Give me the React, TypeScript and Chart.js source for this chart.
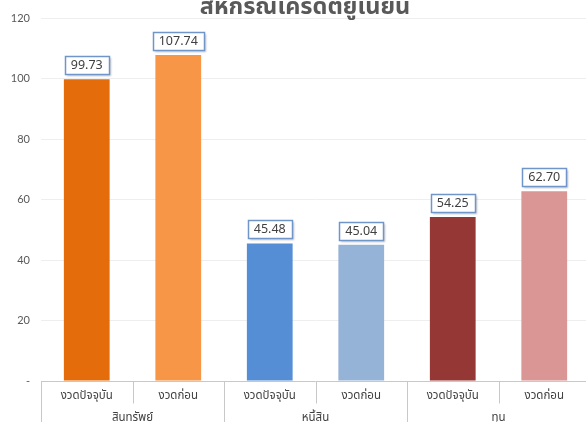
import { useEffect, useRef } from "react";
import { Chart, registerables } from "chart.js";

Chart.register(...registerables);

const titleText = "สหกรณ์เครดิตยูเนี่ยน";
const periods = ["งวดปัจจุบัน", "งวดก่อน", "งวดปัจจุบัน", "งวดก่อน", "งวดปัจจุบัน", "งวดก่อน"];
const groups = ["สินทรัพย์", "หนี้สิน", "ทุน"];
const values = [99.73, 107.74, 45.48, 45.04, 54.25, 62.7];
const barColors = ["#E46C0A", "#F79646", "#558ED5", "#95B3D7", "#953735", "#D99694"];
const yMax = 120;
const yStep = 20;

const FONT = "'Noto Sans Thai', 'Leelawadee UI', Tahoma, 'Noto Sans', 'DejaVu Sans', sans-serif";

const decorPlugin = {
  id: "decor",
  beforeDatasetsDraw(chart: any) {
    const { ctx, chartArea } = chart;
    ctx.save();
    ctx.strokeStyle = "#C8C8C8";
    ctx.lineWidth = 1;
    ctx.beginPath();
    ctx.moveTo(chartArea.left, Math.round(chartArea.bottom) + 0.5);
    ctx.lineTo(chartArea.right, Math.round(chartArea.bottom) + 0.5);
    ctx.stroke();
    ctx.restore();
  },
  afterDraw(chart: any) {
    const { ctx, chartArea, scales, width } = chart;
    const x = scales.x;
    const n = periods.length;
    const cw = (chartArea.right - chartArea.left) / n;
    const base = Math.round(chartArea.bottom) + 0.5;
    ctx.save();
    // title (partially cut at top)
    ctx.fillStyle = "#595959";
    ctx.font = `bold 23.5px ${FONT}`;
    ctx.textAlign = "center";
    ctx.textBaseline = "alphabetic";
    ctx.fillText(titleText, width / 2 + 10, 13.5);

    // separators
    ctx.strokeStyle = "#C8C8C8";
    ctx.lineWidth = 1;
    for (let k = 0; k <= n; k++) {
      const px = Math.round(chartArea.left + k * cw) + 0.5;
      ctx.beginPath();
      ctx.moveTo(px, base);
      ctx.lineTo(px, k % 2 === 0 ? chart.height : base + 22);
      ctx.stroke();
    }
    // labels
    ctx.fillStyle = "#404040";
    ctx.font = `11.5px ${FONT}`;
    ctx.textBaseline = "middle";
    periods.forEach((p, i) => {
      ctx.fillText(p, x.getPixelForValue(i), base + 15);
    });
    groups.forEach((g, gi) => {
      const cx = chartArea.left + (gi * 2 + 1) * cw;
      ctx.fillText(g, cx, base + 37);
    });
    ctx.restore();
  },
  afterDatasetsDraw(chart: any) {
    const { ctx } = chart;
    const meta = chart.getDatasetMeta(0);
    ctx.save();
    ctx.font = `12.5px ${FONT}`;
    ctx.textAlign = "center";
    ctx.textBaseline = "middle";
    meta.data.forEach((bar: any, i: number) => {
      const txt = values[i].toFixed(2);
      const tw = ctx.measureText(txt).width;
      const w = Math.round(tw + 12);
      const h = 18;
      const bx = Math.round(bar.x - w / 2) + 0.5;
      const by = Math.round(bar.y - 5 - h) + 0.5;
      ctx.save();
      ctx.shadowColor = "rgba(0,0,0,0.25)";
      ctx.shadowBlur = 2;
      ctx.shadowOffsetX = 1;
      ctx.shadowOffsetY = 1;
      ctx.fillStyle = "#FFFFFF";
      ctx.fillRect(bx, by, w, h);
      ctx.restore();
      ctx.strokeStyle = "#7095C9";
      ctx.lineWidth = 1.5;
      ctx.strokeRect(bx, by, w, h);
      ctx.fillStyle = "#404040";
      ctx.fillText(txt, bar.x, by + h / 2 + 0.5);
    });
    ctx.restore();
  },
};

export default function App() {
  const ref = useRef<HTMLCanvasElement>(null);
  useEffect(() => {
    if (!ref.current) return;
    const chart = new Chart(ref.current, {
      type: "bar",
      data: {
        labels: periods,
        datasets: [
          {
            data: values,
            backgroundColor: barColors,
            borderWidth: 0,
            barPercentage: 0.5,
            categoryPercentage: 1,
          },
        ],
      },
      options: {
        animation: false,
        responsive: false,
        maintainAspectRatio: false,
        layout: { padding: { top: 18, bottom: 41, left: 0, right: 0 } },
        plugins: { legend: { display: false }, tooltip: { enabled: false }, title: { display: false } },
        scales: {
          x: {
            grid: { display: false },
            border: { display: false },
            ticks: { display: false },
            afterFit: (s: any) => {
              s.height = 0;
            },
          },
          y: {
            min: 0,
            max: yMax,
            grid: { color: "#EEEEEE", drawTicks: false },
            border: { display: false },
            ticks: {
              stepSize: yStep,
              padding: 11,
              color: "#595959",
              font: { size: 11, family: "Lato, 'Noto Sans', sans-serif" },
              callback: (v: any) => (Number(v) === 0 ? "-" : String(v)),
            },
            afterFit: (s: any) => {
              s.width = 41;
            },
          },
        },
      },
      plugins: [decorPlugin],
    });
    return () => chart.destroy();
  }, []);
  return (
    <div style={{ position: "fixed", left: 0, top: 0, width: 590, height: 422, background: "#fff" }}>
      <canvas ref={ref} width={590} height={422} style={{ width: 590, height: 422 }} />
    </div>
  );
}
